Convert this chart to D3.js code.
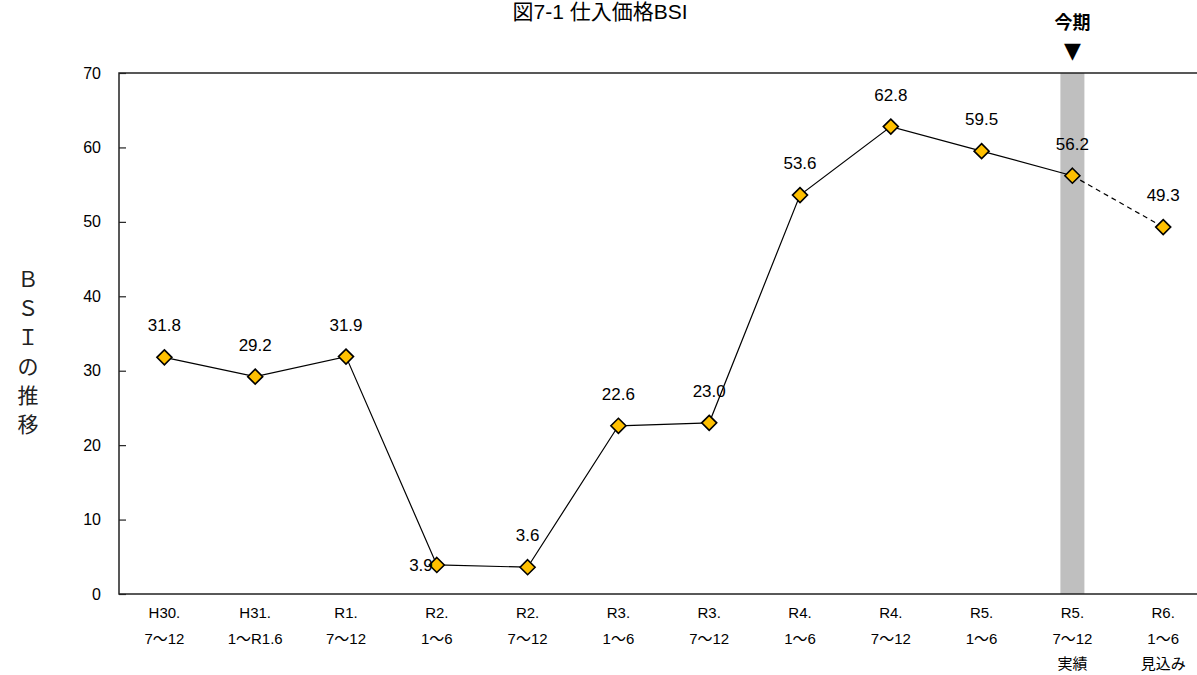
<!DOCTYPE html>
<html>
<head>
<meta charset="utf-8">
<script src="https://cdn.jsdelivr.net/npm/d3@7"></script>
<style>
  body { margin: 0; background: #fff; }
  svg { display: block; font-family: "Liberation Sans", Arial, "Noto Sans CJK JP", sans-serif; }
</style>
</head>
<body>
<div id="chart"></div>
<script>
// period labels (each line of the x axis label)
const periods = [
  ['H30.', '7～12'],
  ['H31.', '1～R1.6'],
  ['R1.', '7～12'],
  ['R2.', '1～6'],
  ['R2.', '7～12'],
  ['R3.', '1～6'],
  ['R3.', '7～12'],
  ['R4.', '1～6'],
  ['R4.', '7～12'],
  ['R5.', '1～6'],
  ['R5.', '7～12', '実績'],
  ['R6.', '1～6', '見込み']
];
const bsi = [31.8, 29.2, 31.9, 3.9, 3.6, 22.6, 23.0, 53.6, 62.8, 59.5, 56.2, 49.3];
const yTicks = [0, 10, 20, 30, 40, 50, 60, 70];
const currentIndex = 10; // 今期

const width = 1197, height = 675;
const margin = { top: 73, left: 119, bottom: 81 };
const plotW = 12 * 90.8;
const plotH = height - margin.top - margin.bottom;

const svg = d3.select('#chart').append('svg')
  .attr('width', width)
  .attr('height', height);

const g = svg.append('g').attr('transform', `translate(${margin.left},${margin.top})`);

const x = d3.scaleBand().domain(d3.range(periods.length)).range([0, plotW]);
const y = d3.scaleLinear().domain([0, 70]).range([plotH, 0]);
const cx = i => x(i) + x.bandwidth() / 2;

// highlight band for current period
g.append('rect')
  .attr('x', cx(currentIndex) - 12)
  .attr('y', 0)
  .attr('width', 24)
  .attr('height', plotH)
  .attr('fill', '#bfbfbf');

// frame
g.append('rect')
  .attr('x', 0).attr('y', 0)
  .attr('width', plotW).attr('height', plotH)
  .attr('fill', 'none')
  .attr('stroke', '#222')
  .attr('stroke-width', 1.5);

// y axis
const yAxis = g.append('g')
  .call(d3.axisRight(y).tickValues(yTicks).tickSize(7).tickFormat(''));
yAxis.select('.domain').remove();
yAxis.selectAll('line').attr('stroke', '#222').attr('stroke-width', 1.2);

g.selectAll('.ylab')
  .data(yTicks)
  .join('text')
  .attr('class', 'ylab')
  .attr('x', -18)
  .attr('y', d => y(d))
  .attr('dy', '0.35em')
  .attr('text-anchor', 'end')
  .style('font-size', '16px')
  .text(d => d);

// x labels
const xl = g.selectAll('.xlab')
  .data(periods)
  .join('text')
  .attr('class', 'xlab')
  .attr('transform', (d, i) => `translate(${cx(i)},${plotH + 24})`)
  .attr('text-anchor', 'middle')
  .style('font-size', '15px');
xl.selectAll('tspan')
  .data(d => d)
  .join('tspan')
  .attr('x', 0)
  .attr('y', (d, j) => j * 25.5)
  .text(d => d);

// lines
const line = d3.line().x(d => cx(d.i)).y(d => y(d.v));
const pts = bsi.map((v, i) => ({ i, v }));
g.append('path')
  .datum(pts.slice(0, currentIndex + 1))
  .attr('d', line)
  .attr('fill', 'none')
  .attr('stroke', '#000')
  .attr('stroke-width', 1.2);
g.append('path')
  .datum(pts.slice(currentIndex))
  .attr('d', line)
  .attr('fill', 'none')
  .attr('stroke', '#000')
  .attr('stroke-width', 1.2)
  .attr('stroke-dasharray', '5,4');

// markers
g.selectAll('.pt')
  .data(pts)
  .join('path')
  .attr('class', 'pt')
  .attr('d', 'M0,-7.5L7.5,0L0,7.5L-7.5,0Z')
  .attr('transform', d => `translate(${cx(d.i)},${y(d.v)})`)
  .attr('fill', '#ffc000')
  .attr('stroke', '#000')
  .attr('stroke-width', 1.6);

// value labels (3.9 sits left of its marker)
g.selectAll('.vlab')
  .data(pts)
  .join('text')
  .attr('class', 'vlab')
  .attr('x', d => d.i === 3 ? cx(d.i) - 4 : cx(d.i))
  .attr('y', d => d.i === 3 ? y(d.v) : y(d.v) - 32)
  .attr('dy', '0.35em')
  .attr('text-anchor', d => d.i === 3 ? 'end' : 'middle')
  .style('font-size', '17px')
  .text(d => d.v.toFixed(1));

// title
svg.append('text')
  .attr('x', 600)
  .attr('y', 19)
  .attr('text-anchor', 'middle')
  .style('font-size', '21px')
  .text('図7-1  仕入価格BSI');

// current period marker
svg.append('text')
  .attr('x', margin.left + cx(currentIndex))
  .attr('y', 29)
  .attr('text-anchor', 'middle')
  .style('font-size', '18px')
  .style('font-weight', 'bold')
  .text('今期');
svg.append('text')
  .attr('x', margin.left + cx(currentIndex))
  .attr('y', 58)
  .attr('text-anchor', 'middle')
  .style('font-family', '"DejaVu Sans", sans-serif')
  .style('font-size', '22px')
  .text('▼');

// vertical y title
const ytitle = ['Ｂ', 'Ｓ', 'Ｉ', 'の', '推', '移'];
svg.selectAll('.ytitle')
  .data(ytitle)
  .join('text')
  .attr('class', 'ytitle')
  .attr('x', 28)
  .attr('y', (d, i) => 280 + i * 29)
  .attr('dy', '0.35em')
  .attr('text-anchor', 'middle')
  .style('font-family', '"DejaVu Serif", "Noto Sans CJK JP", serif')
  .style('font-size', '21px')
  .style('fill', '#222')
  .text(d => d);
</script>
</body>
</html>
